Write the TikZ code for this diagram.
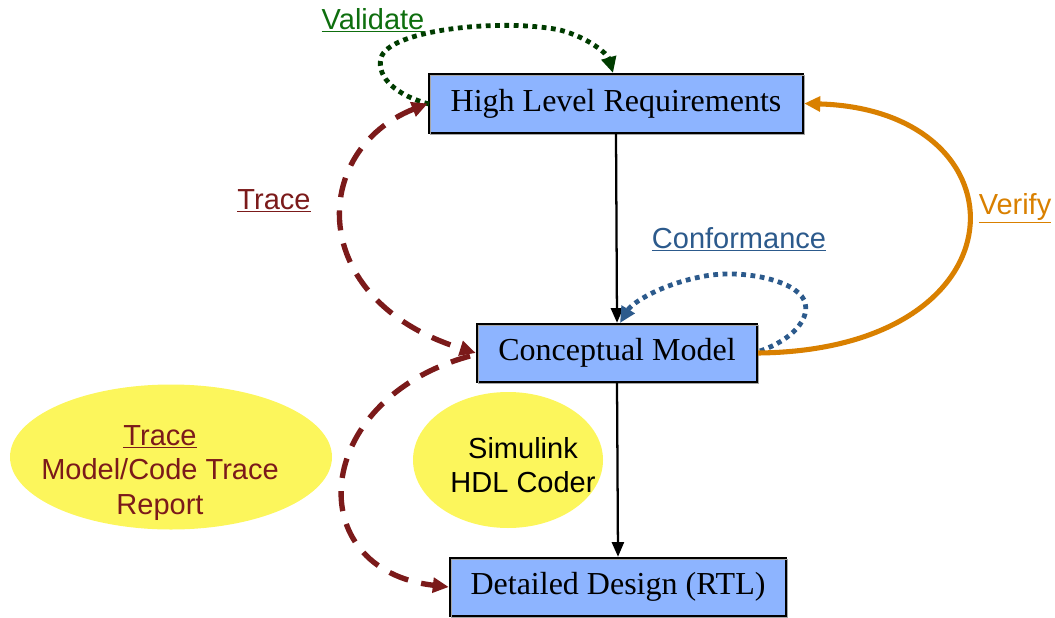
\documentclass[tikz,border=0pt]{standalone}
\usepackage{fontspec}
\setmainfont{Liberation Serif}
\setsansfont{Liberation Sans}
\usetikzlibrary{arrows.meta,shapes.geometric}
\definecolor{boxblue}{HTML}{8DB4FF}
\definecolor{ovalyellow}{HTML}{FCF65C}
\definecolor{tracered}{HTML}{7B1A1A}
\definecolor{valgreen}{HTML}{0E6E0E}
\definecolor{valdots}{HTML}{003C00}
\definecolor{confblue}{HTML}{2C5A8C}
\definecolor{verorange}{HTML}{D98000}
\newcommand{\ulabel}[1]{\underline{#1}}
\tikzset{
  stagebox/.style={draw=black, line width=1.8pt, fill=boxblue, inner sep=0pt,
    font=\fontsize{24}{28}\selectfont,
    postaction={draw=gray!70, line width=0.6pt, transform canvas={xshift=1.2pt,yshift=-1.2pt}}},
  oval/.style={ellipse, fill=ovalyellow, draw=none, inner sep=0pt},
  lbl/.style={font=\sffamily\fontsize{21.75}{26}\selectfont, inner sep=0pt},
  flow/.style={draw=black, line width=1.7pt, -{Triangle[length=11pt,width=9pt]}},
  tracearrow/.style={draw=tracered, line width=4pt, dash pattern=on 15pt off 10pt},
  dotline/.style={line width=3.6pt, dash pattern=on 3.6pt off 3.4pt},
}
\begin{document}
\begin{tikzpicture}[x=0.75pt,y=-0.75pt]
\useasboundingbox (0,0) rectangle (1055,617);

% ovals
\node[oval, minimum width=322*0.75pt, minimum height=145*0.75pt] (tro) at (171,457) {};
\node[oval, minimum width=190*0.75pt, minimum height=136*0.75pt] (hdl) at (508,460) {};
\node[lbl, align=center, text=tracered] (trtxt) at (160,473)
  {\ulabel{Trace}\\Model/Code Trace\\Report};
\node[lbl, align=center] (hdltxt) at (523,465)
  {Simulink\\HDL Coder};

% stage boxes
\node[stagebox, minimum width=374*0.75pt, minimum height=59*0.75pt] (hlr) at (616,103.5) {High Level Requirements};
\node[stagebox, minimum width=280*0.75pt, minimum height=58*0.75pt] (cm) at (617,353) {Conceptual Model};
\node[stagebox, minimum width=336*0.75pt, minimum height=58*0.75pt] (dd) at (618,587) {Detailed Design (RTL)};

% main flow
\draw[flow] (hlr.south) -- (cm.north);
\draw[flow] (cm.south) -- (dd.north);

% validate loop
\coordinate (vstart) at (429,104);
\coordinate (vend) at (613,73);
\draw[valdots, dotline, -{Triangle[length=12pt,width=11pt]}]
  (vstart) .. controls (398,96) and (376,78) .. (381,58)
  .. controls (388,30) and (500,18) .. (560,30)
  .. controls (590,38) and (608,55) .. (vend);

% trace links
\coordinate (tlstart) at (470,356);
\draw[tracearrow, {Triangle[length=12pt,width=11pt]}-{Triangle[length=12pt,width=11pt]}]
  (hlr.west) .. controls (310,150) and (305,300) .. (cm.west);
\draw[tracearrow, -{Triangle[length=12pt,width=11pt]}]
  (tlstart) .. controls (310,400) and (300,570) .. (dd.west);

% conformance loop
\coordinate (cstart) at (760,351);
\coordinate (cend) at (620,323);
\draw[confblue, dotline, -{Triangle[length=12pt,width=11pt]}]
  (cstart) .. controls (792,340) and (812,318) .. (804,300)
  .. controls (795,280) and (740,268) .. (700,277)
  .. controls (660,285) and (632,303) .. (cend);

% verify
\draw[verorange, line width=3.8pt, -{Triangle[length=12pt,width=11pt]}]
  (cm.east) .. controls (1030,350) and (1030,110) .. (hlr.east);

% labels
\node[lbl, text=valgreen] (vlab) at (373,20) {\ulabel{Validate}};
\node[lbl, text=tracered] (tlab) at (274,201) {\ulabel{Trace}};
\node[lbl, text=confblue] (clab) at (739,239) {\ulabel{Conformance}};
\node[lbl, text=verorange] (verlab) at (1015,208) {\ulabel{Verify}};
\end{tikzpicture}
\end{document}
